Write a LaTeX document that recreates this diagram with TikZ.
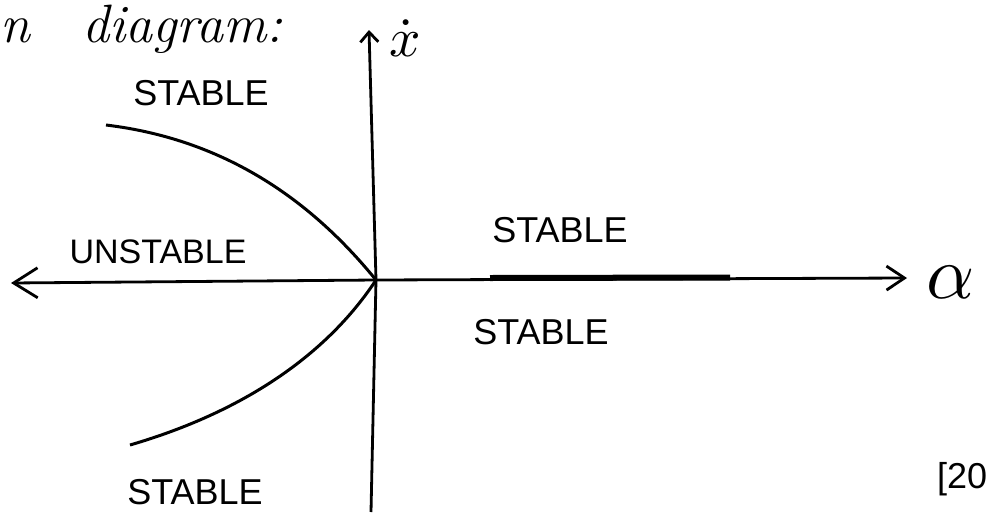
\documentclass[tikz,border=0pt]{standalone}
\usepackage{fontspec}
\setsansfont{Liberation Sans}
\usetikzlibrary{arrows.meta}
\begin{document}
\begin{tikzpicture}[x=1pt,y=-1pt,
  axis/.style={line width=2.8pt},
  curve/.style={line width=3pt},
  lab/.style={font=\sffamily\fontsize{36}{40}\selectfont, inner sep=0pt},
  hand/.style={font=\fontsize{54}{58}\selectfont\itshape, inner sep=0pt}]
\useasboundingbox (0,0) rectangle (991,512);
\coordinate (O) at (376,280);
\coordinate (top) at (369,30);
\coordinate (bot) at (371,512);
\coordinate (left) at (11,283);
\coordinate (right) at (907,278);
\coordinate (uc) at (106,125);
\coordinate (lc) at (130,445);
\coordinate (ts) at (490,278);
\coordinate (te) at (730,277.5);
% axes
\draw[axis,-{Straight Barb[length=10pt,width=18pt,line width=2.8pt]}] (bot) -- (O) -- (top);
\draw[axis,-{Straight Barb[length=24pt,width=30pt,line width=2.8pt]}] (O) -- (left);
\draw[axis,-{Straight Barb[length=18pt,width=24pt,line width=2.8pt]}] (O) -- (right);
\draw[line width=6pt] (ts) -- (te);
% curves
\draw[curve] (uc) .. controls (230,140) and (315,205) .. (O);
\draw[curve] (lc) .. controls (250,410) and (330,350) .. (O);
% labels
\node[hand, anchor=base west] (n) at (0,42) {n};
\node[hand, anchor=base west] (dg) at (82,42) {diagram:};
\node[scale=5.5, inner sep=0pt] (xd) at (405,38) {$\dot{x}$};
\node[scale=7.5, inner sep=0pt] (al) at (951,282) {$\alpha$};
\node[lab] (s1) at (201,93) {STABLE};
\node[lab] (s2) at (560,230) {STABLE};
\node[lab] (s3) at (541,332) {STABLE};
\node[lab, font=\sffamily\fontsize{34}{38}\selectfont] (un) at (158,252) {UNSTABLE};
\node[lab] (s4) at (195,492) {STABLE};
\node[font=\sffamily\fontsize{36}{40}\selectfont, inner sep=0pt, anchor=west] (ref) at (937,479) {[20};
\end{tikzpicture}
\end{document}
